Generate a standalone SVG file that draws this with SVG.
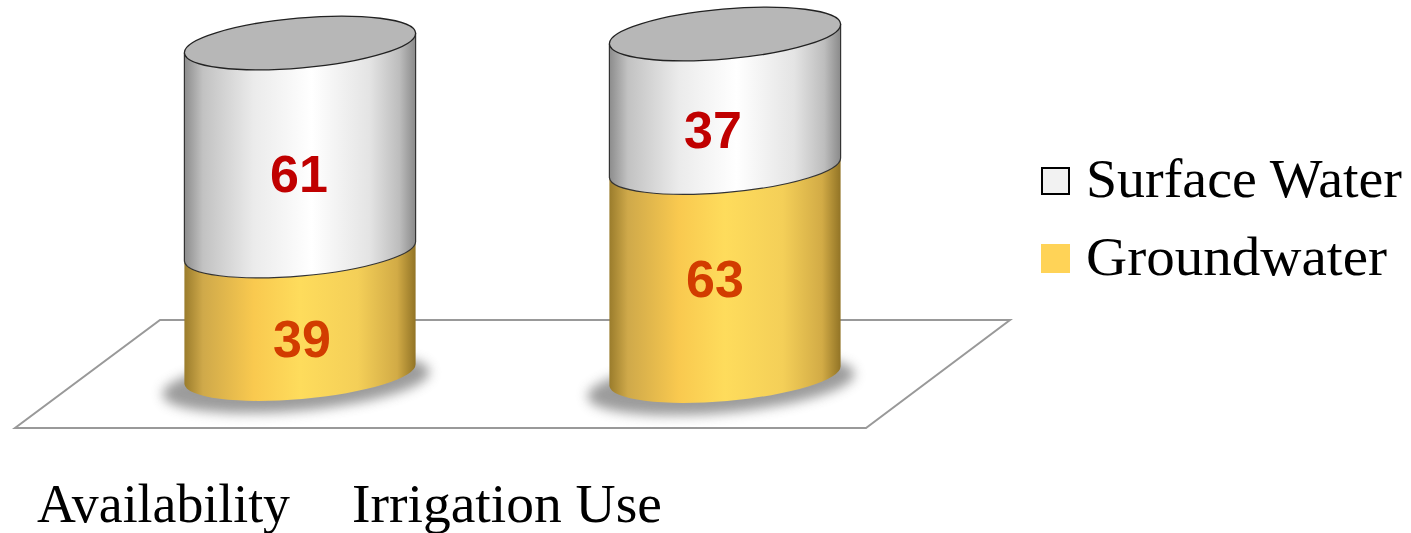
<svg xmlns="http://www.w3.org/2000/svg" width="1411" height="533" viewBox="0 0 1411 533">
<defs>
<linearGradient id="gWhite" x1="0" y1="0" x2="1" y2="0">
<stop offset="0" stop-color="#8c8c8c"/>
<stop offset="0.08" stop-color="#c2c2c2"/>
<stop offset="0.3" stop-color="#ebebeb"/>
<stop offset="0.55" stop-color="#ffffff"/>
<stop offset="0.8" stop-color="#e4e4e4"/>
<stop offset="0.93" stop-color="#bdbdbd"/>
<stop offset="1" stop-color="#8a8a8a"/>
</linearGradient>
<linearGradient id="gYellow" x1="0" y1="0" x2="1" y2="0">
<stop offset="0" stop-color="#9a7c2c"/>
<stop offset="0.08" stop-color="#cfa94a"/>
<stop offset="0.3" stop-color="#f9c94f"/>
<stop offset="0.5" stop-color="#fedc5c"/>
<stop offset="0.75" stop-color="#f4cf58"/>
<stop offset="0.92" stop-color="#d2ab46"/>
<stop offset="1" stop-color="#927426"/>
</linearGradient>
<filter id="blur" x="-20%" y="-50%" width="140%" height="200%">
<feGaussianBlur stdDeviation="6"/>
</filter>
<style>
.top{fill:#b7b7b7;stroke:#222;stroke-width:1.3}
.white{fill:url(#gWhite);stroke:#333;stroke-width:1.2}
.yellow{fill:url(#gYellow)}
.shadow{fill:#5a5a5a;opacity:0.6}
.val{font-family:"Liberation Sans",Arial,sans-serif;font-weight:bold;font-size:52px;text-anchor:middle}
.sw{fill:#c00000}
.gw{fill:#d23c00}
.lbl{font-family:"Liberation Serif","Times New Roman",serif;font-size:54px;fill:#000}
.floor{fill:#fff;stroke:#999;stroke-width:2}
</style>
</defs>
<rect width="1411" height="533" fill="#fff"/>
<g id="floor">
<polygon class="floor" points="160,320 1010,320 866,428 15,428"/>
</g>
<g id="bar-availability">
<ellipse class="shadow" filter="url(#blur)" cx="296" cy="383" rx="134" ry="28" transform="rotate(-5 296 383)"/>
<path class="yellow" d="M184.4,261.1 L184.4,384.1 A116,25 -5 0 0 415.6,363.9 L415.6,240.9 A116,25 -5 0 1 184.4,261.1 Z"/>
<path class="white" d="M184.4,53.1 L184.4,261.1 A116,25 -5 0 0 415.6,240.9 L415.6,32.9"/>
<ellipse class="top" cx="300" cy="43" rx="116" ry="25" transform="rotate(-5 300 43)"/>
<text class="val sw" x="299" y="192">61</text>
<text class="val gw" x="302" y="357">39</text>
</g>
<g id="bar-irrigation">
<ellipse class="shadow" filter="url(#blur)" cx="721" cy="385" rx="134" ry="28" transform="rotate(-5 721 385)"/>
<path class="yellow" d="M609.4,177.6 L609.4,386.1 A116,25 -5 0 0 840.6,365.9 L840.6,157.4 A116,25 -5 0 1 609.4,177.6 Z"/>
<path class="white" d="M609.4,44.1 L609.4,177.6 A116,25 -5 0 0 840.6,157.4 L840.6,23.9"/>
<ellipse class="top" cx="725" cy="34" rx="116" ry="25" transform="rotate(-5 725 34)"/>
<text class="val sw" x="713" y="148">37</text>
<text class="val gw" x="715" y="297">63</text>
</g>
<g id="legend">
<rect x="1042" y="168" width="27" height="26" fill="#f2f2f2" stroke="#000" stroke-width="2"/>
<text class="lbl" x="1086" y="197" textLength="316" lengthAdjust="spacingAndGlyphs">Surface Water</text>
<rect x="1041" y="244" width="29" height="29" fill="#ffd357"/>
<text class="lbl" x="1086" y="275" textLength="301" lengthAdjust="spacingAndGlyphs">Groundwater</text>
</g>
<g id="category-labels">
<text class="lbl" x="37" y="522" font-size="53" textLength="253" lengthAdjust="spacingAndGlyphs">Availability</text>
<text class="lbl" x="352" y="522" font-size="53" textLength="310" lengthAdjust="spacingAndGlyphs">Irrigation Use</text>
</g>
</svg>
